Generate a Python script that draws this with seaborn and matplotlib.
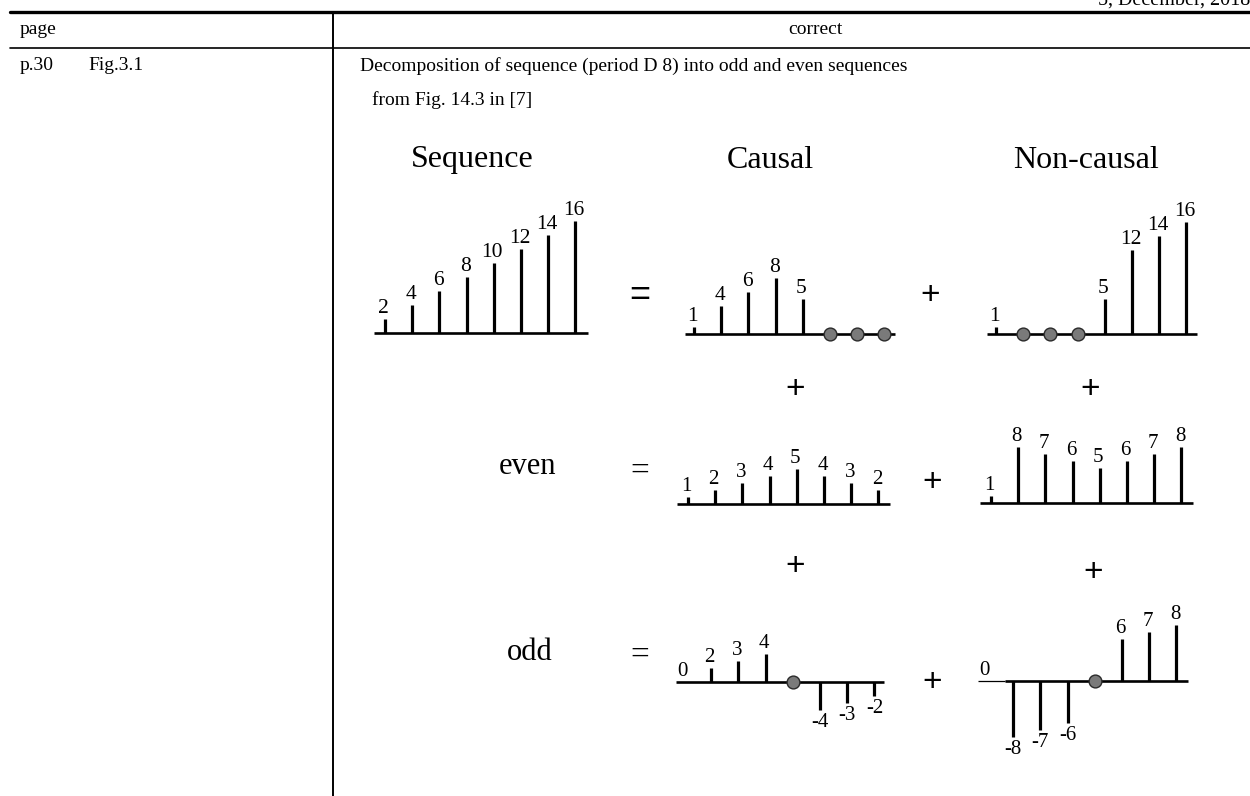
import matplotlib
matplotlib.use("Agg")
import matplotlib.pyplot as plt
import seaborn as sns

sns.set_theme(style="white")
plt.rcParams['font.family'] = ['Liberation Serif', 'DejaVu Serif']
plt.rcParams['text.color'] = 'black'

# sequences (period 8)
sequence = [2, 4, 6, 8, 10, 12, 14, 16]
causal = [1, 4, 6, 8, 5, 0, 0, 0]
noncausal = [1, 0, 0, 0, 5, 12, 14, 16]
even_causal = [1, 2, 3, 4, 5, 4, 3, 2]
even_noncausal = [1, 8, 7, 6, 5, 6, 7, 8]
odd_causal = [0, 2, 3, 4, 0, -4, -3, -2]
odd_noncausal = [0, -8, -7, -6, 0, 6, 7, 8]

# indices drawn as grey dots instead of stems
causal_dots = [5, 6, 7]
noncausal_dots = [1, 2, 3]
odd_causal_dots = [4]
odd_noncausal_dots = [4]

column_titles = ["Sequence", "Causal", "Non-causal"]

W, H = 1250, 796
DX, DY = 27.2, 7.0   # pixels per sample / per unit

fig = plt.figure(figsize=(W / 100, H / 100), dpi=100)


def px_text(x, y, s, size=14, ha="left", family=None, **kw):
    fig.text(x / W, 1 - y / H, s, fontsize=size, ha=ha, va="center",
             family=family or ['Liberation Serif'], color="black", **kw)


def fig_line(x0, y0, x1, y1, lw):
    fig.add_artist(plt.Line2D([x0 / W, x1 / W], [1 - y0 / H, 1 - y1 / H],
                              color="black", lw=lw, transform=fig.transFigure))


def stem_panel(values, x_first, y_base, left, right, dots=(), label_size=15.5,
               thin_until=None):
    # axes sized so that one sample = DX px and one unit = DY px
    top, bottom = y_base - 140, y_base + 80
    ax = fig.add_axes([(left - 6) / W, 1 - bottom / H,
                       (right - left + 12) / W, (bottom - top) / H])
    ax.set_xlim((left - 6 - x_first) / DX, (right + 6 - x_first) / DX)
    ax.set_ylim(-(bottom - y_base) / DY, (y_base - top) / DY)
    ax.axis("off")
    ax.patch.set_alpha(0)

    x_lo, x_hi = (left - x_first) / DX, (right - x_first) / DX
    if thin_until is None:
        ax.hlines(0, x_lo, x_hi, color="black", lw=1.9)
    else:
        ax.hlines(0, x_lo, thin_until, color="black", lw=0.9)
        ax.hlines(0, thin_until, x_hi, color="black", lw=1.9)

    idx = [i for i in range(len(values)) if i not in dots]
    vals = [values[i] for i in idx]
    ax.vlines(idx, 0, vals, color="black", lw=2.3)

    if dots:
        sns.scatterplot(x=list(dots), y=[0] * len(dots), ax=ax, s=85,
                        color="#7a7a7a", edgecolor="#2a2a2a", linewidth=1.0,
                        zorder=3, legend=False)

    for i, v in zip(idx, vals):
        if v < 0:
            ax.annotate(str(v), (i, v), xytext=(0, -2), textcoords="offset points",
                        ha="center", va="top", fontsize=label_size, color="black")
        else:
            ax.annotate(str(v), (i, v), xytext=(-1, 1), textcoords="offset points",
                        ha="center", va="bottom", fontsize=label_size, color="black")
    return ax


# table rules
fig_line(10, 12, W, 12, 2.4)
fig_line(10, 48, W, 48, 1.2)
fig_line(333, 12, 333, H, 1.4)

fig.text(1098 / W, 1 - 5 / H, "5, December, 2018", fontsize=14.5, ha="left",
         va="baseline", family=['Liberation Serif'], color="black")
px_text(20, 30, "page")
px_text(815, 30, "correct", ha="center")
px_text(20, 66, "p.30")
px_text(88, 66, "Fig.3.1")
px_text(360, 66, "Decomposition of sequence (period D 8) into odd and even sequences")
px_text(372, 100, "from Fig. 14.3 in [7]")

for x, t in zip([472, 770, 1086], column_titles):
    px_text(x, 160, t, size=23, ha="center")

sans = ['Liberation Sans', 'DejaVu Sans']
# row 1
stem_panel(sequence, 385, 333, 374, 588)
stem_panel(causal, 694, 334, 685, 895, dots=causal_dots)
stem_panel(noncausal, 996, 334, 987, 1197, dots=noncausal_dots)
px_text(640, 295, "=", size=26, ha="center", family=sans)
px_text(930, 295, "+", size=24, ha="center", family=sans)
px_text(795, 390, "+", size=24, ha="center", family=sans)
px_text(1090, 390, "+", size=24, ha="center", family=sans)

# row 2 (even)
stem_panel(even_causal, 688, 504, 677, 890, label_size=15)
stem_panel(even_noncausal, 991, 503, 980, 1193, label_size=15)
px_text(528, 466, "even", size=22, ha="center")
px_text(640, 472, "=", size=24, ha="center")
px_text(932, 482, "+", size=24, ha="center", family=sans)
px_text(795, 566, "+", size=24, ha="center", family=sans)
px_text(1093, 572, "+", size=24, ha="center", family=sans)

# row 3 (odd)
stem_panel(odd_causal, 684, 682, 676, 884, dots=odd_causal_dots, label_size=15)
stem_panel(odd_noncausal, 986, 681, 978, 1188, dots=odd_noncausal_dots,
           label_size=15, thin_until=0.7)
px_text(530, 652, "odd", size=22, ha="center")
px_text(640, 656, "=", size=24, ha="center")
px_text(932, 682, "+", size=24, ha="center", family=sans)

fig.savefig("out.png", dpi=100)
